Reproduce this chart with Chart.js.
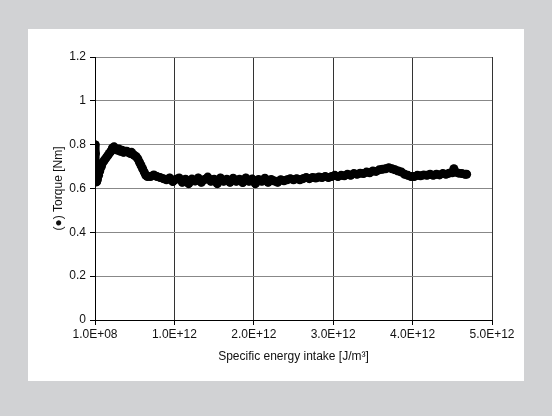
<!DOCTYPE html>
<html>
<head>
<meta charset="utf-8">
<script src="https://cdn.jsdelivr.net/npm/chart.js@4/dist/chart.umd.min.js"></script>
<style>
html,body{margin:0;padding:0;background:#d1d2d4;}
#wrap{position:absolute;left:0;top:0;width:552px;height:416px;}
</style>
</head>
<body>
<div id="wrap"><canvas id="c" width="552" height="416"></canvas></div>
<script>
// Specific energy intake, in units of 1e12 J/m³
const energy = [0.000,0.005,0.010,0.015,0.020,0.030,0.045,0.060,0.080,0.100,0.120,0.140,0.160,0.180,0.200,0.220,0.240,0.260,0.280,0.300,0.320,0.340,0.360,0.380,0.400,0.420,0.440,0.460,0.480,0.500,0.520,0.540,0.560,0.580,0.600,0.620,0.640,0.660,0.700,0.740,0.780,0.820,0.860,0.900,0.940,0.980,1.02,1.06,1.10,1.14,1.18,1.22,1.26,1.30,1.34,1.38,1.42,1.46,1.50,1.54,1.58,1.62,1.66,1.70,1.74,1.78,1.82,1.86,1.90,1.94,1.98,2.02,2.06,2.10,2.14,2.18,2.22,2.26,2.30,2.34,2.38,2.42,2.46,2.50,2.54,2.58,2.62,2.66,2.70,2.74,2.78,2.82,2.86,2.90,2.94,2.98,3.02,3.06,3.10,3.14,3.18,3.22,3.26,3.30,3.34,3.38,3.42,3.46,3.50,3.54,3.58,3.62,3.66,3.70,3.74,3.78,3.82,3.86,3.90,3.94,3.98,4.02,4.06,4.10,4.14,4.18,4.22,4.26,4.30,4.34,4.38,4.42,4.46,4.50,4.52,4.54,4.58,4.62,4.66,4.68];
// Torque [Nm]
const torque = [0.80,0.76,0.70,0.65,0.63,0.64,0.66,0.68,0.70,0.72,0.73,0.74,0.75,0.76,0.77,0.785,0.79,0.78,0.775,0.78,0.77,0.775,0.765,0.77,0.77,0.765,0.76,0.765,0.755,0.75,0.745,0.735,0.72,0.705,0.69,0.675,0.66,0.655,0.655,0.662,0.655,0.65,0.645,0.64,0.648,0.632,0.642,0.648,0.628,0.642,0.622,0.643,0.634,0.648,0.628,0.641,0.652,0.633,0.642,0.622,0.648,0.633,0.642,0.628,0.647,0.633,0.642,0.627,0.648,0.633,0.643,0.622,0.641,0.633,0.647,0.628,0.641,0.634,0.628,0.64,0.635,0.64,0.645,0.64,0.645,0.64,0.645,0.65,0.645,0.65,0.648,0.652,0.65,0.655,0.65,0.655,0.66,0.655,0.66,0.658,0.665,0.66,0.668,0.665,0.67,0.668,0.675,0.672,0.68,0.678,0.685,0.688,0.69,0.695,0.69,0.685,0.68,0.675,0.665,0.66,0.655,0.655,0.66,0.658,0.662,0.66,0.665,0.66,0.665,0.662,0.668,0.665,0.67,0.672,0.69,0.675,0.67,0.668,0.665,0.665];
const xTickLabels = ["1.0E+08","1.0E+12","2.0E+12","3.0E+12","4.0E+12","5.0E+12"];
const yTickValues = [0,0.2,0.4,0.6,0.8,1,1.2];

const points = energy.map((x,i)=>({x:x,y:torque[i]}));

const bgPlugin = {
  id:'bg',
  beforeDraw(chart){
    const ctx = chart.ctx;
    ctx.save();
    ctx.fillStyle = '#d1d2d4';
    ctx.fillRect(0,0,chart.width,chart.height);
    ctx.fillStyle = '#ffffff';
    ctx.fillRect(28,29,496,352);
    ctx.restore();
  }
};

const font = {family:'"Liberation Sans", Arial, sans-serif', size:12};

new Chart(document.getElementById('c'), {
  type:'scatter',
  data:{datasets:[{
    data:points,
    showLine:true,
    borderColor:'#000',
    backgroundColor:'#000',
    borderWidth:8,
    borderJoinStyle:'round',
    borderCapStyle:'round',
    pointRadius:4.5,
    pointBorderWidth:0,
    tension:0
  }]},
  options:{
    responsive:false,
    animation:false,
    events:[],
    layout:{padding:{left:51,top:57,right:60,bottom:52}},
    plugins:{legend:{display:false},tooltip:{enabled:false}},
    scales:{
      x:{
        type:'linear',min:0,max:5,
        afterFit(s){s.height=44;},
        ticks:{stepSize:1,color:'#111',font:font,padding:2,maxRotation:0,
          callback:(v,i)=>xTickLabels[i]},
        grid:{color:'#333',lineWidth:1,tickLength:5,tickColor:'#000'},
        border:{color:'#000',width:1},
        title:{display:true,text:'Specific energy intake [J/m³]',color:'#111',font:font,padding:0}
      },
      y:{
        type:'linear',min:0,max:1.2,
        afterFit(s){s.width=44;},
        afterBuildTicks(s){s.ticks = yTickValues.map(v=>({value:v}));},
        ticks:{color:'#111',font:font,padding:4,callback:(v)=>String(v)},
        grid:{color:'#888',lineWidth:1,tickLength:5,tickColor:'#000'},
        border:{color:'#000',width:1},
        title:{display:true,text:'(●) Torque [Nm]',color:'#111',font:font,padding:0}
      }
    }
  },
  plugins:[bgPlugin]
});
</script>
</body>
</html>
